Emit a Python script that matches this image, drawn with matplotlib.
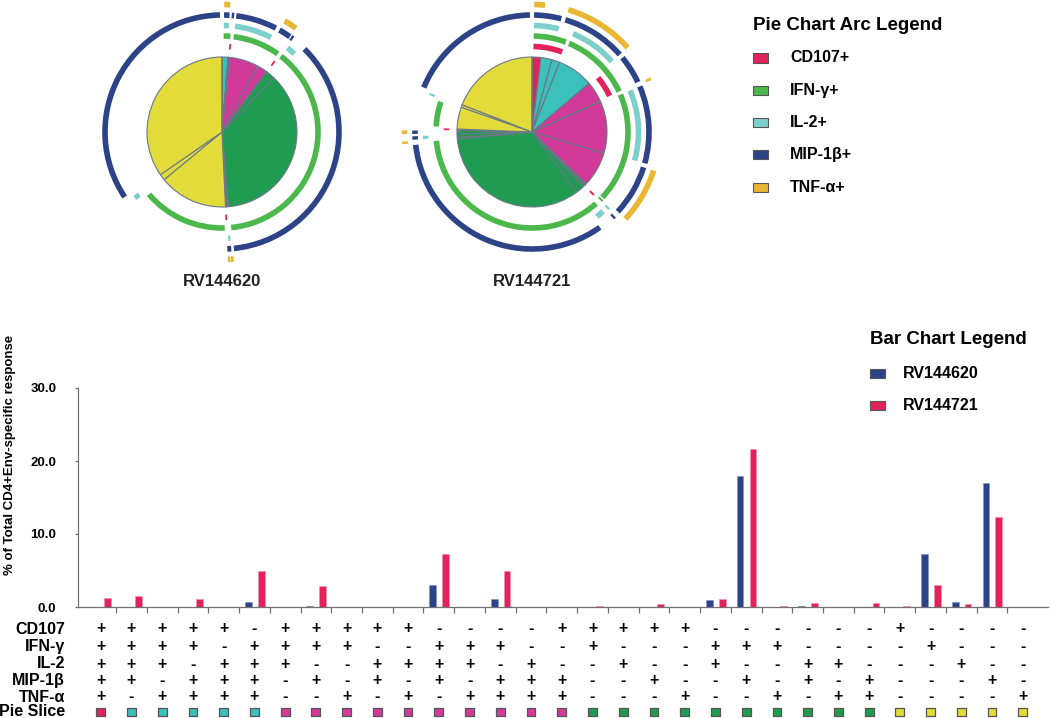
import matplotlib
matplotlib.use('Agg')
import matplotlib.pyplot as plt
from matplotlib.patches import Wedge, Rectangle
import numpy as np

plt.rcParams['font.family'] = ['Liberation Sans', 'DejaVu Sans']
plt.rcParams['font.weight'] = 'bold'

W, H = 1050, 718

# data
markers = ['CD107', 'IFN-γ', 'IL-2', 'MIP-1β', 'TNF-α']
arc_labels = ['CD107+', 'IFN-γ+', 'IL-2+', 'MIP-1β+', 'TNF-α+']
combos = ['+++++', '++++-', '+++-+', '++-++', '+-+++', '-++++',
          '+++--', '++-+-', '++--+', '+-++-', '+-+-+', '-+++-', '-++-+', '-+-++', '--+++', '+--++',
          '++---', '+-+--', '+--+-', '+---+', '-++--', '-+-+-', '-+--+', '--++-', '--+-+', '---++',
          '+----', '-+---', '--+--', '---+-', '----+']
samples = ['RV144620', 'RV144721']
rv144620 = [0, 0, 0, 0, 0, 0.64, 0, 0.18, 0, 0, 0, 3.05, 0, 1.1, 0, 0,
            0, 0, 0.05, 0, 0.95, 17.9, 0.05, 0.15, 0, 0.05,
            0.05, 7.25, 0.64, 17.0, 0]
rv144721 = [1.23, 1.55, 0, 1.1, 0, 5.0, 0, 2.9, 0.05, 0, 0, 7.25, 0, 4.9, 0, 0,
            0.18, 0.05, 0.36, 0, 1.14, 21.7, 0.18, 0.5, 0, 0.5,
            0.18, 3.05, 0.36, 12.3, 0]
yticks = [0, 10, 20, 30]

# colours
navy = '#2d4387'
crimson = '#e3215a'
arc_cols = ['#e3215a', '#4cb84c', '#7ecfcc', '#2d4387', '#e9b733']
slice_cols = {5: '#e2225a', 4: '#3cc0bc', 3: '#d23a9a', 2: '#1f9b52', 1: '#e2db3a'}
edge = '#6b7888'
axis_grey = '#707070'


def px(x, y):
    return x / W, 1 - y / H


fig = plt.figure(figsize=(W / 100, H / 100), dpi=100)

# ---- pies with arcs
arc_r = [1.14, 1.28, 1.42, 1.56, 1.70]
arc_w = 0.075
pad = 1.0


def draw_pie(cx, cy, vals, label):
    ax = fig.add_axes([(cx - 135) / W, 1 - (cy + 135) / H, 270 / W, 270 / H])
    cols = [slice_cols[c.count('+')] for c in combos]
    ax.pie(vals, colors=cols, startangle=90, counterclock=False, radius=1,
           wedgeprops=dict(edgecolor=edge, linewidth=0.8))
    cum = np.concatenate([[0], np.cumsum(vals)]) / sum(vals) * 360
    n = len(combos)
    for m in range(5):
        i = 0
        while i < n:
            if combos[i][m] != '+':
                i += 1
                continue
            j = i
            while j + 1 < n and combos[j + 1][m] == '+':
                j += 1
            a0, a1 = cum[i], cum[j + 1]
            i = j + 1
            span = a1 - a0
            if span <= 0:
                continue
            if span > 2 * pad + 0.8:
                a0, a1 = a0 + pad, a1 - pad
            else:
                mid = (a0 + a1) / 2
                half = max(span * 0.3, 0.6)
                a0, a1 = mid - half, mid + half
            ax.add_patch(Wedge((0, 0), arc_r[m] + arc_w / 2, 90 - a1, 90 - a0,
                               width=arc_w, facecolor=arc_cols[m], lw=0))
    ax.set_xlim(-1.8, 1.8)
    ax.set_ylim(-1.8, 1.8)
    ax.set_aspect('equal')
    ax.axis('off')
    fig.text(*px(cx, 281), label, ha='center', va='center', fontsize=12, color='#222222')


draw_pie(222, 132, rv144620, samples[0])
draw_pie(532, 132, rv144721, samples[1])

# ---- pie arc legend
fig.text(*px(753, 25), 'Pie Chart Arc Legend', ha='left', va='center', fontsize=13.5)
for k, (lab, col) in enumerate(zip(arc_labels, arc_cols)):
    yy = 58 + k * 32.3
    x0, y0 = px(753, yy + 4.5)
    fig.patches.append(Rectangle((x0, y0), 15 / W, 9 / H, transform=fig.transFigure,
                                 facecolor=col, edgecolor='#555555', lw=0.8))
    fig.text(*px(790, yy), lab, ha='left', va='center', fontsize=11.5)

# ---- bar chart
x = np.arange(len(combos))
ax = fig.add_axes([78 / W, 111 / H, 970 / W, 219 / H])
ax.bar(x - 0.2, rv144620, width=0.22, color=navy, edgecolor='#8090c0', lw=0.4)
ax.bar(x + 0.22, rv144721, width=0.22, color=crimson, edgecolor='#f090a8', lw=0.4)
ax.set_xlim(-0.74, 30.82)
ax.set_ylim(0, 30)
ax.set_xticks(x[:-1] + 0.5)
ax.set_xticklabels([])
ax.set_yticks(yticks)
ax.set_yticklabels(['%.1f' % v for v in yticks], fontsize=9.5)
ax.tick_params(axis='x', length=4, width=0.9, color=axis_grey)
ax.tick_params(axis='y', length=2.5, width=0.9, color=axis_grey, pad=13)
for s in ['top', 'right']:
    ax.spines[s].set_visible(False)
for s in ['left', 'bottom']:
    ax.spines[s].set_color(axis_grey)
    ax.spines[s].set_linewidth(0.9)

fig.text(*px(10, 455), '% of Total CD4+Env-specific response', rotation=90,
         ha='center', va='center', fontsize=9.5)

# bar legend
fig.text(*px(870, 340), 'Bar Chart Legend', ha='left', va='center', fontsize=13.5)
for k, (lab, col) in enumerate(zip(samples, [navy, crimson])):
    yy = 373 + k * 32.5
    x0, y0 = px(870, yy + 4.5)
    fig.patches.append(Rectangle((x0, y0), 15 / W, 9 / H, transform=fig.transFigure,
                                 facecolor=col, edgecolor='#555555', lw=0.8))
    fig.text(*px(903, yy), lab, ha='left', va='center', fontsize=11.5)

# ---- combination table
tab = fig.add_axes([78 / W, 0, 970 / W, 100 / H])
tab.set_xlim(-0.74, 30.82)
tab.set_ylim(718, 618)
tab.axis('off')
row_y = [629, 647, 664, 681, 697]
for r, (name, yy) in enumerate(zip(markers, row_y)):
    fig.text(*px(65, yy), name, ha='right', va='center', fontsize=11.5)
    for i, c in enumerate(combos):
        tab.text(i, yy, c[r], ha='center', va='center', fontsize=11.5)
fig.text(*px(65, 712), 'Pie Slice', ha='right', va='center', fontsize=11.5)
tab.scatter(x, [712] * len(x), marker='s', s=40,
            c=[slice_cols[c.count('+')] for c in combos], edgecolors='#555555', linewidths=0.9)

fig.savefig('out.png', dpi=100)
